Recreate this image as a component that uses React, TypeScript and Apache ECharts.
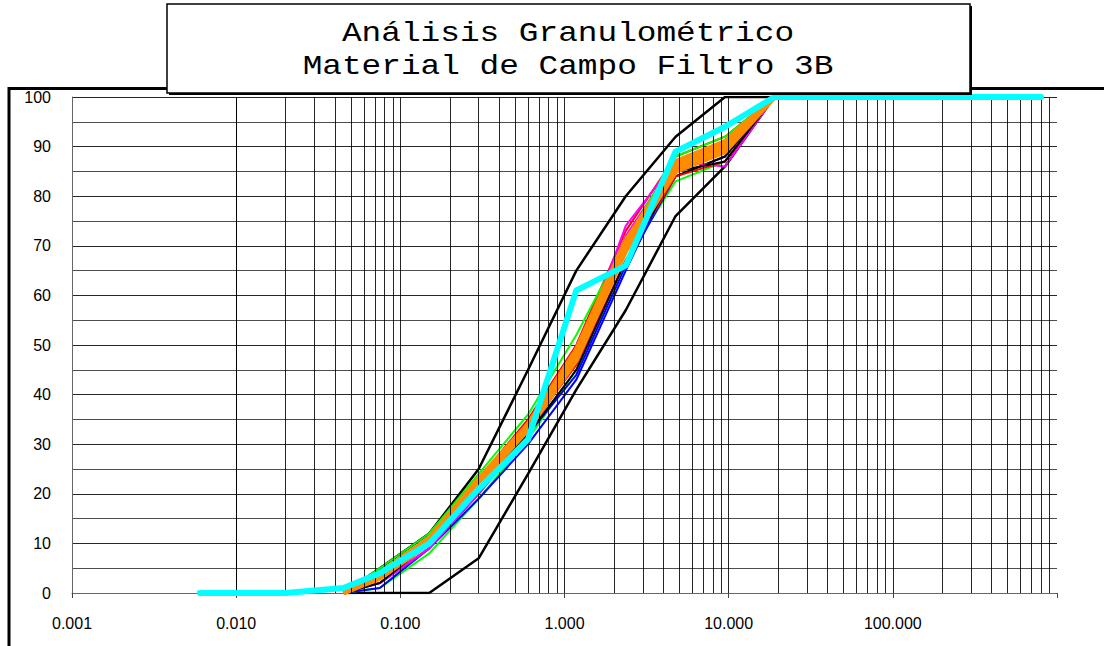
import React, { useEffect, useRef } from "react";
import * as echarts from "echarts";

// Sieve sizes (mm) and % passing
const sieveSizes = [0.045, 0.075, 0.15, 0.3, 0.6, 1.18, 2.36, 4.75, 9.5, 19, 800];

const bandSeries: { color: string; width: number; values: number[] }[] = [
  { color: "#FF0000", width: 2, values: [0, 4, 11, 23, 35, 50, 73, 88, 92, 100, 100] },
  { color: "#00FF00", width: 2, values: [0, 1, 8, 19, 31, 45, 67, 83, 87, 100, 100] },
  { color: "#0000FF", width: 2, values: [0, 2, 9, 20, 32, 44, 66, 84, 88, 100, 100] },
  { color: "#FF00FF", width: 2, values: [0, 3, 10, 21, 33, 48, 72, 87, 91, 100, 100] },
  { color: "#000000", width: 2, values: [0, 4, 11, 23, 34, 47, 69, 84, 88, 100, 100] },
  { color: "#00FF00", width: 2, values: [0, 5, 12, 24, 36, 52, 71, 88, 92, 100, 100] },
  { color: "#FF0000", width: 2, values: [0, 3, 10, 21, 33, 46, 67, 84, 87, 100, 100] },
  { color: "#0000FF", width: 2, values: [0, 1, 9, 19, 30, 43, 65, 86, 90, 100, 100] },
  { color: "#FF00FF", width: 2, values: [0, 2, 9, 20, 32, 47, 74, 87, 86, 100, 100] },
  { color: "#000000", width: 2, values: [0, 2, 10, 21, 32, 45, 67, 85, 87, 100, 100] },
  { color: "#FF8C00", width: 5, values: [0, 3, 10, 22, 33, 47, 69, 85, 89, 100, 100] },
  { color: "#FF8C00", width: 5, values: [0, 4, 11, 23, 34, 49, 71, 86, 90, 100, 100] },
  { color: "#FF8C00", width: 5, values: [0, 4, 11, 22, 34, 48, 70, 87, 91, 100, 100] },
];

const cyanSizes = [0.006, 0.02, 0.045, 0.075, 0.15, 0.3, 0.6, 1.18, 2.36, 4.75, 9.5, 19, 800];
const cyanValues = [0, 0, 1, 4, 10, 21, 31, 61, 66, 89, 94, 100, 100];

const upperSizes = [0.045, 0.075, 0.15, 0.3, 0.6, 1.18, 2.36, 4.75, 9.5, 19, 800];
const upperValues = [0, 5, 12, 25, 45, 65, 80, 92, 100, 100, 100];

const lowerSizes = [0.045, 0.075, 0.15, 0.3, 0.6, 1.18, 2.36, 4.75, 9.5, 19, 800];
const lowerValues = [0, 0, 0, 7, 24, 41, 57, 76, 86, 100, 100];

const titleLines = ["Análisis Granulométrico", "Material de Campo Filtro 3B"];

const decades = [0.001, 0.01, 0.1, 1, 10, 100];
const multipliers = [1, 2, 3, 4, 5, 6, 7, 8, 9];

const pairs = (xs: number[], ys: number[]) => xs.map((x, i) => [x, ys[i]]);

export default function App() {
  const ref = useRef<HTMLDivElement>(null);
  useEffect(() => {
    if (!ref.current) return;
    const chart = echarts.init(ref.current, undefined, { renderer: "svg" });

    const gridX: number[] = [];
    decades.forEach((d) =>
      multipliers.forEach((m) => {
        const v = d * m;
        if (v > 0.0011) gridX.push(v);
      })
    );

    const series: any[] = [
      {
        type: "line",
        data: [],
        z: 1,
        silent: true,
        markLine: {
          silent: true,
          symbol: ["none", "none"],
          label: { show: false },
          lineStyle: { color: "#000", width: 1, type: "solid", opacity: 0.85 },
          data: gridX.map((v) => ({ xAxis: v })),
        },
      },
      {
        type: "line",
        data: pairs(upperSizes, upperValues),
        showSymbol: false,
        lineStyle: { color: "#000", width: 2.5 },
        z: 3,
      },
      {
        type: "line",
        data: pairs(lowerSizes, lowerValues),
        showSymbol: false,
        lineStyle: { color: "#000", width: 2.5 },
        z: 3,
      },
      ...bandSeries.map((s) => ({
        type: "line",
        data: pairs(sieveSizes, s.values),
        showSymbol: false,
        lineStyle: { color: s.color, width: s.width },
        z: 4,
      })),
      {
        type: "line",
        data: pairs(cyanSizes, cyanValues),
        showSymbol: false,
        lineStyle: { color: "#00FFFF", width: 6, cap: "round", join: "round" },
        z: 5,
      },
    ];

    chart.setOption({
      animation: false,
      grid: { left: 72, top: 97, right: 47, bottom: 53 },
      xAxis: {
        type: "log",
        logBase: 10,
        min: 0.001,
        max: 1000,
        axisLine: { show: true, lineStyle: { color: "#666", width: 1 } },
        axisTick: { show: true, length: 5, lineStyle: { color: "#444" } },
        splitLine: { show: false },
        axisLabel: {
          color: "#000",
          fontSize: 16,
          fontFamily: "Liberation Sans, Arial, sans-serif",
          margin: 22,
          formatter: (v: number) => (v >= 999 ? "" : v.toFixed(3)),
        },
      },
      yAxis: {
        type: "value",
        min: 0,
        max: 100,
        interval: 10,
        axisLine: { show: true, lineStyle: { color: "#666", width: 1 } },
        axisTick: { show: false },
        splitLine: { show: true, lineStyle: { color: "#000", width: 1, opacity: 0.85 } },
        minorTick: { show: false, splitNumber: 2 },
        minorSplitLine: { show: true, lineStyle: { color: "#000", width: 1, opacity: 0.7 } },
        axisLabel: {
          color: "#000",
          fontSize: 16,
          fontFamily: "Liberation Sans, Arial, sans-serif",
          margin: 21,
        },
      },
      graphic: [
        {
          type: "rect",
          z: 50,
          silent: true,
          shape: { x: 9, y: 88.5, width: 1200, height: 700 },
          style: { fill: "none", stroke: "#000", lineWidth: 3 },
        },
        {
          type: "rect",
          z: 60,
          silent: true,
          shape: { x: 169, y: 6, width: 803, height: 89 },
          style: { fill: "#000" },
        },
        {
          type: "rect",
          z: 61,
          silent: true,
          shape: { x: 167, y: 4, width: 803, height: 89 },
          style: { fill: "#fff", stroke: "#000", lineWidth: 1.5 },
        },
        ...titleLines.map((t, i) => ({
          type: "text",
          z: 62,
          silent: true,
          x: 568,
          y: 34 + i * 33,
          scaleX: 1.17,
          style: {
            text: t,
            fill: "#000",
            fontFamily: "'Liberation Mono', 'Courier New', monospace",
            fontSize: 28,
            lineHeight: 28,
            align: "center",
            verticalAlign: "middle",
          },
        })),
      ],
      series,
    });
    return () => chart.dispose();
  }, []);
  return (
    <div
      ref={ref}
      style={{ position: "fixed", left: 0, top: 0, width: 1104, height: 646, background: "#fff" }}
    />
  );
}
